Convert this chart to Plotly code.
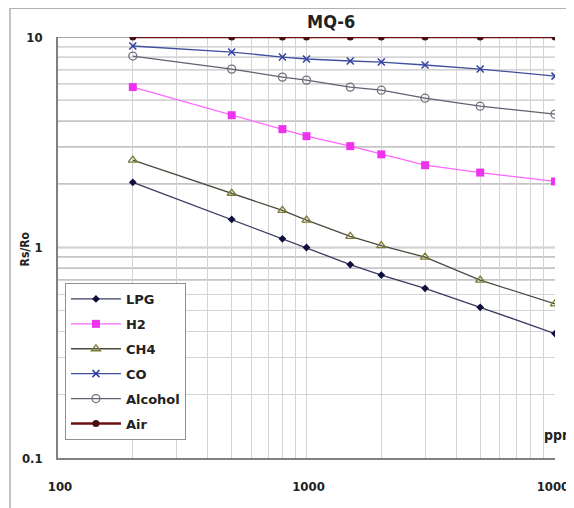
import plotly.graph_objects as go

ppm = [200, 500, 800, 1000, 1500, 2000, 3000, 5000, 10000]
lpg = [2.04, 1.36, 1.10, 1.00, 0.83, 0.74, 0.64, 0.52, 0.39]
h2 = [5.78, 4.25, 3.65, 3.38, 3.03, 2.77, 2.46, 2.27, 2.06]
ch4 = [2.60, 1.81, 1.50, 1.35, 1.13, 1.02, 0.90, 0.70, 0.54]
co = [9.06, 8.48, 8.03, 7.86, 7.69, 7.60, 7.36, 7.04, 6.52]
alcohol = [8.12, 7.04, 6.45, 6.24, 5.78, 5.59, 5.12, 4.69, 4.30]
air = [10, 10, 10, 10, 10, 10, 10, 10, 10]

x_grid = [100, 200, 300, 400, 500, 600, 700, 800, 900,
          1000, 2000, 3000, 4000, 5000, 6000, 7000, 8000, 9000, 10000]
x_labels = {100: "100", 1000: "1000", 10000: "10000"}
y_grid = [0.1, 0.2, 0.3, 0.4, 0.5, 0.6, 0.7, 0.8, 0.9,
          1, 2, 3, 4, 5, 6, 7, 8, 9, 10]
y_labels = {0.1: "0.1", 1: "1", 10: "10"}
y_dark = [0.7, 0.8, 0.9, 1, 2, 3, 4, 5, 6, 7, 8, 9, 10]

FONT = "DejaVu Sans Condensed, Liberation Sans Narrow, Arial Narrow, sans-serif"
LEG_FONT = "DejaVu Sans, sans-serif"

series = [
    ("LPG", lpg, dict(symbol="diamond", size=6, color="#101040"), dict(color="#3a3a60", width=1.3)),
    ("H2", h2, dict(symbol="square", size=8, color="#ee33ee"), dict(color="#ff66ff", width=1.3)),
    ("CH4", ch4, dict(symbol="triangle-up-open", size=8, color="#7a7a30", line=dict(width=1.3)), dict(color="#4a4a40", width=1.3)),
    ("CO", co, dict(symbol="x-thin-open", size=7, color="#3040a0", line=dict(width=1.5, color="#3040a0")), dict(color="#4050a0", width=1.3)),
    ("Alcohol", alcohol, dict(symbol="circle-open", size=8, color="#707080", line=dict(width=1.3)), dict(color="#606070", width=1.3)),
    ("Air", air, dict(symbol="circle", size=7, color="#4a1010"), dict(color="#6b1010", width=2.5)),
]

fig = go.Figure()
for name, vals, marker, line in series:
    fig.add_trace(go.Scatter(
        x=ppm, y=vals, name=f"<b>{name}</b>", mode="lines+markers",
        marker=marker, line=line, legendgroup=name,
    ))

shapes = []
for v in y_dark:
    shapes.append(dict(type="line", xref="paper", yref="y", x0=0, x1=1, y0=v, y1=v,
                       line=dict(color="#8a8a8a", width=1.3), layer="below"))
# outer frame
shapes.append(dict(type="rect", xref="paper", yref="paper", x0=-0.0966, x1=1.2, y0=-0.3, y1=1.068,
                   line=dict(color="#b0b0b0", width=1.5), layer="below"))

fig.update_layout(
    width=566, height=500,
    margin=dict(l=50, r=19, t=29, b=50, autoexpand=False),
    paper_bgcolor="white", plot_bgcolor="white",
    font=dict(family=FONT, size=13, color="#222222"),
    title=dict(text="<b>MQ-6</b>", x=0.571, xanchor="center", y=0.972, yanchor="middle",
               font=dict(family=FONT, size=18, color="#222222")),
    showlegend=True,
    legend=dict(x=0.014, y=0.4157, xanchor="left", yanchor="top",
                bgcolor="white", bordercolor="#909090", borderwidth=1,
                font=dict(family=LEG_FONT, size=13, color="#222222"),
                tracegroupgap=5, itemwidth=50),
    shapes=shapes,
    annotations=[
        dict(text="<b>ppm</b>", xref="paper", yref="paper", x=0.974, y=0.055,
             xanchor="left", yanchor="middle", showarrow=False,
             font=dict(family=FONT, size=14, color="#222222")),
        dict(text="<b>Rs/Ro</b>", xref="paper", yref="paper", x=-0.066, y=0.496,
             xanchor="center", yanchor="middle", textangle=-90, showarrow=False,
             font=dict(family=FONT, size=12, color="#222222")),
    ],
)

fig.update_xaxes(
    type="log", range=[2, 4], automargin=False, tickangle=0,
    tickvals=x_grid, ticktext=[(f"<b>{x_labels[v]}</b>" if v in x_labels else "") for v in x_grid],
    showgrid=True, gridcolor="#d4d4d4", gridwidth=1,
    showline=True, linecolor="#808080", linewidth=1.5, mirror=False,
    ticks="", tickfont=dict(family=FONT, size=13, color="#222222"),
    ticklabelshift=2, ticklabelstandoff=16, ticklabeloverflow="allow", zeroline=False,
)
fig.update_yaxes(
    type="log", range=[-1, 1], automargin=False,
    tickvals=y_grid, ticktext=[(f"<b>{y_labels[v]}</b>" if v in y_labels else "") for v in y_grid],
    showgrid=True, gridcolor="#d4d4d4", gridwidth=1,
    showline=True, linecolor="#808080", linewidth=1.5,
    ticks="", tickfont=dict(family=FONT, size=13, color="#222222"),
    ticklabelstandoff=11, ticklabeloverflow="allow", zeroline=False,
)

fig.write_html("out.html")
